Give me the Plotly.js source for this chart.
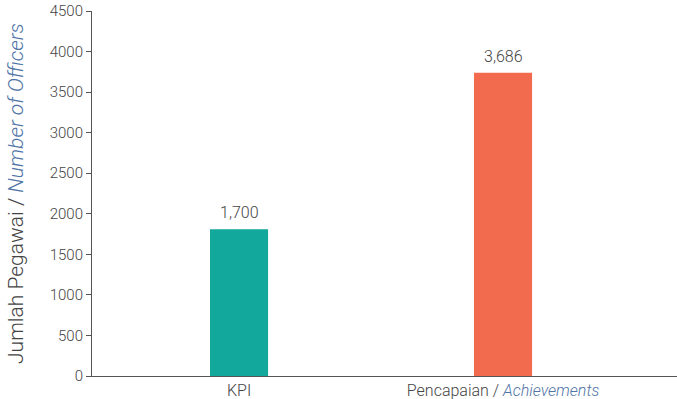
<!DOCTYPE html>
<html>
<head>
<meta charset="utf-8">
<script src="https://cdn.plot.ly/plotly-3.0.1.min.js"></script>
<style>html,body{margin:0;padding:0;background:#fff;}#chart{width:677px;height:399px;}</style>
</head>
<body>
<div id="chart"></div>
<script>
const categories = ["KPI", "Pencapaian / <i><span style='color:#4f74a6'>Achievements</span></i>"];
const barHeights = [1810, 3740];
const barLabels = ["1,700", "3,686"];
const barColors = ["#13a89c", "#f26b4e"];
const yTicks = [0, 500, 1000, 1500, 2000, 2500, 3000, 3500, 4000, 4500];

const fontFam = "Roboto, 'Liberation Sans', sans-serif";
const trace = {
  type: "bar",
  x: [0, 1],
  y: barHeights,
  width: 0.22,
  marker: {color: barColors},
  hoverinfo: "skip"
};
const annotations = barLabels.map((t, i) => ({
  x: i, y: barHeights[i], xref: "x", yref: "y",
  text: t, showarrow: false, yanchor: "bottom", yshift: 5,
  font: {family: fontFam, size: 16, color: "#444", weight: 300}
}));
const layout = {
  width: 677, height: 399,
  margin: {l: 92, r: 0, t: 11, b: 23},
  paper_bgcolor: "#fff", plot_bgcolor: "#fff",
  showlegend: false,
  font: {family: fontFam, color: "#444", weight: 300},
  xaxis: {
    range: [-0.557, 1.659],
    tickvals: [0, 1], ticktext: categories,
    showgrid: false, zeroline: false,
    showline: true, linecolor: "#555", linewidth: 1,
    ticks: "", tickfont: {size: 16, color: "#444", weight: 300}
  },
  yaxis: {
    range: [0, 4500],
    tickvals: yTicks,
    showgrid: false, zeroline: false,
    showline: true, linecolor: "#555", linewidth: 1,
    ticks: "outside", ticklen: 5, tickcolor: "#555",
    tickfont: {size: 15, color: "#444", weight: 300},
    title: {
      text: "Jumlah Pegawai / <i><span style='color:#4f74a6'>Number of Officers</span></i>",
      font: {size: 21, color: "#444", weight: 300},
      standoff: 20
    }
  },
  annotations: annotations
};
Plotly.newPlot("chart", [trace], layout, {staticPlot: true, displayModeBar: false});
</script>
</body>
</html>
